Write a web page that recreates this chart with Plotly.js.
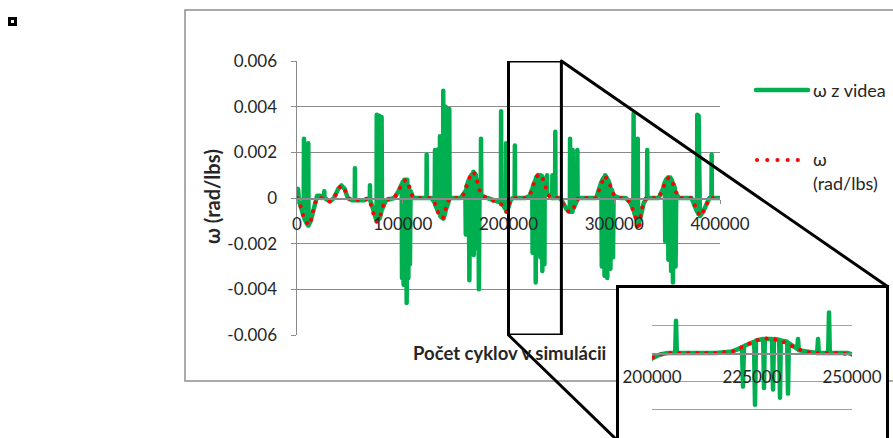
<!DOCTYPE html>
<html>
<head>
<meta charset="utf-8">
<script src="https://cdn.plot.ly/plotly-3.0.1.min.js"></script>
<style>
  html, body { margin: 0; padding: 0; background: #fff; overflow: hidden; }
  #wrap { position: relative; width: 893px; height: 438px; overflow: hidden; }
  #main { position: absolute; left: 0; top: 0; width: 893px; height: 438px; }
  #inset { position: absolute; left: 616px; top: 285px; width: 273px; height: 180px;
           border: 3px solid #000; box-sizing: border-box; background: #fff; }
  #insetPlot { width: 267px; height: 174px; }
  .js-line { stroke-linejoin: round !important; stroke-linecap: round !important; }
  .shapelayer path { stroke-linecap: round !important; }
</style>
</head>
<body>
<div id="wrap">
  <div id="main"></div>
  <div id="inset"><div id="insetPlot"></div></div>
</div>
<script>
// ω measured from video frames (cycle number, rad/lbs)
const videoCycles = [
  0, 1000, 1800, 4000, 6300, 6600, 6900, 9000,
  10500, 10700, 10900, 13000, 16000, 19000, 22000, 25600,
  25800, 26000, 31000, 35000, 39000, 42000, 45000, 48000,
  52000, 54600, 54800, 55000, 63000, 68800, 69000, 69200,
  72000, 75200, 75400, 75800, 77600, 77800, 78200, 79800,
  80000, 80400, 84000, 92000, 96000, 99000, 99300, 99800,
  100800, 101500, 102500, 103200, 103700, 104300, 105300, 106000,
  106800, 107400, 110000, 122400, 122600, 122800, 127000, 130200,
  130500, 130800, 133400, 133600, 133800, 135000, 135200, 135500,
  138100, 138300, 138600, 140400, 140600, 140900, 143800, 144000,
  144300, 155000, 158000, 159200, 159600, 160200, 162500, 163000,
  163600, 164800, 165200, 165800, 166800, 167200, 167800, 169200,
  169600, 170200, 171500, 172000, 172600, 173800, 174000, 174300,
  180000, 186000, 192800, 193000, 193200, 197400, 197700, 198000,
  200000, 202000, 204000, 205800, 206000, 206200, 216000, 220000,
  222500, 222750, 223000, 225500, 225750, 226000, 227800, 228000,
  228200, 230000, 230250, 230500, 231800, 232000, 232200, 233800,
  234000, 234200, 236300, 236500, 236700, 239000, 241300, 241500,
  241700, 244050, 244250, 244450, 249000, 252000, 255000, 258000,
  258200, 258500, 260500, 260700, 261000, 264900, 265100, 265400,
  283000, 286000, 287800, 288200, 288800, 290200, 290800, 291400,
  292800, 293400, 294000, 295800, 296400, 297000, 298200, 298800,
  299400, 305000, 311000, 315000, 318000, 318300, 318600, 320000,
  321800, 322200, 322600, 325000, 328000, 331000, 331200, 331400,
  342000, 346000, 347800, 348200, 348800, 350800, 351200, 351800,
  353200, 353800, 354400, 355000, 355500, 356200, 357400, 358000,
  358600, 361000, 373000, 376000, 378300, 378500, 378800, 379600,
  379800, 380100, 381000, 384000, 387000, 390000, 391900, 392100,
  392300, 400000
];
const videoOmega = [
  0, 0.0004, -0.0001, -0.0005, -0.0008, 0.0026, -0.0009, -0.0011,
  -0.0012, 0.0024, -0.0012, -0.001, -0.0004, 0.0001, 0.0001, 0,
  0.0003, 0, -0.00015, 0, 0.0004, 0.00055, 0.0004, 0,
  -0.0001, -0.0001, 0.0013, -0.0001, -0.0001, 0, 0.00056, -0.0001,
  -0.0005, -0.001, 0.00365, -0.001, -0.0009, 0.0036, -0.0009, -0.0006,
  0.00355, -0.0005, -0.0001, 0, 0.0003, 0.0006, -0.0035, 0.0007,
  -0.0038, 0.0008, -0.0036, 0.0008, -0.0046, 0.0008, -0.0035, 0.0005,
  -0.0029, 0.0003, 0, 0, 0.0019, 0, 0, -0.0002,
  0.0021, -0.0003, -0.0006, 0.00213, -0.0006, -0.0007, 0.0027, -0.0008,
  -0.0009, 0.0047, -0.0009, -0.0006, 0.004, -0.0005, -0.0001, 0.0039,
  0, 0, 0.0002, 0.0003, -0.0016, 0.0005, 0.0008, -0.0036,
  0.0009, 0.001, -0.0019, 0.0011, 0.00115, -0.0025, 0.0011, 0.001,
  -0.0022, 0.0008, 0.0006, -0.004, 0.0004, 0.0002, 0.0026, 0.0001,
  0, -0.0001, -0.0002, 0.0038, -0.0002, -0.0005, 0.0024, -0.0006,
  -0.0004, -0.0001, 0, 0, 0.0023, 0, 0, 0.0001,
  0.0004, -0.0024, 0.0005, 0.0008, -0.0037, 0.0009, 0.001, -0.0025,
  0.001, 0.001, -0.0026, 0.001, 0.00095, -0.0032, 0.0009, 0.0008,
  -0.0029, 0.0007, 0.0003, 0.001, 0.0002, 0.0001, 0, 0.001,
  0, 0, 0.0029, 0, 0, -0.0003, -0.0005, -0.0006,
  0.0026, -0.0006, -0.0006, 0.0021, -0.0005, -0.0001, 0.0021, 0,
  0, 0.0004, 0.0007, -0.003, 0.0008, 0.0009, -0.0034, 0.001,
  0.0009, -0.0035, 0.0008, 0.0006, -0.0031, 0.0004, 0.0003, -0.0026,
  0.0001, 0, 0, -0.0002, -0.0005, 0.0037, -0.0006, -0.0008,
  -0.0011, 0.0026, -0.0012, -0.0008, -0.0002, 0, 0.0021, 0,
  0, 0.0004, 0.0007, -0.0019, 0.0008, 0.0009, -0.0027, 0.0009,
  0.0009, -0.0032, 0.0008, 0.0007, -0.0037, 0.0006, 0.0004, -0.003,
  0.0002, 0, 0, -0.0003, -0.0006, 0.00365, -0.0006, -0.0007,
  0.0036, -0.0008, -0.0008, -0.0006, -0.0003, 0, 0, 0.0019,
  0, 0
];

// ω from the simulation (cycle number, rad/lbs)
const simCycles = [
  0, 3000, 6000, 9000, 11000, 13000, 16000, 19000, 23000, 28000,
  31000, 35000, 39000, 42000, 45000, 48000, 52000, 57000, 63000, 67000,
  70000, 73000, 75500, 78000, 81000, 84000, 88000, 92000, 96000, 100000,
  103000, 106000, 109000, 113000, 118000, 123000, 127000, 130000, 133000, 136000,
  138000, 140000, 142000, 145000, 150000, 155000, 158000, 161000, 164000, 166500,
  169000, 172000, 175000, 180000, 185000, 190000, 194000, 198000, 201000, 204000,
  210000, 216000, 220000, 223000, 226000, 229000, 232000, 235000, 238000, 241000,
  247000, 251000, 254000, 257000, 260000, 263000, 266000, 272000, 278000, 283000,
  286000, 289000, 291000, 294000, 297000, 300000, 305000, 311000, 315000, 318000,
  320000, 322000, 323500, 325000, 327000, 330000, 336000, 342000, 346000, 349000,
  352000, 355000, 358000, 361000, 367000, 373000, 376000, 379000, 381000, 384000,
  387000, 390000, 395000, 400000
];
const simOmega = [
  0, -0.0003, -0.0008, -0.0011, -0.0012, -0.001, -0.0004, 0, 0, -0.0001,
  -0.00015, 0, 0.0004, 0.00055, 0.0004, 0, -0.0001, -0.0001, -0.0001, 0,
  -0.0003, -0.0008, -0.00105, -0.0009, -0.0004, -0.0001, 0, 0, 0.0003, 0.0007,
  0.0008, 0.0005, 0.0001, 0, 0, 0, 0, -0.0002, -0.0006, -0.0008,
  -0.0009, -0.0006, -0.0002, 0, 0, 0, 0.0002, 0.0006, 0.001, 0.00115,
  0.001, 0.0004, 0.0001, 0, -0.0001, -0.0002, -0.0003, -0.0006, -0.0002, 0,
  0, 0, 0.0001, 0.0005, 0.0009, 0.00105, 0.0009, 0.0005, 0.0001, 0,
  0, -0.0002, -0.0005, -0.0006, -0.0006, -0.0003, 0, 0, 0, 0,
  0.0004, 0.0008, 0.00097, 0.0008, 0.0004, 0.0001, 0, 0, -0.0002, -0.0005,
  -0.0008, -0.0012, -0.0014, -0.0008, -0.0003, 0, 0, 0, 0.0004, 0.0008,
  0.0009, 0.0007, 0.0003, 0, 0, 0, -0.0003, -0.0006, -0.0008, -0.0006,
  -0.0003, 0, 0, 0
];

// Axis ticks
const omegaTicks = [-0.006, -0.004, -0.002, 0, 0.002, 0.004, 0.006];
const omegaTickText = ['-0.006', '-0.004', '-0.002', '0', '0.002', '0.004', '0.006'];
const cycleTicks = [0, 100000, 200000, 300000, 400000];
const cycleTickText = ['0', '100000', '200000', '300000', '400000'];
const zoomTicks = [200000, 225000, 250000];
const zoomTickText = ['200000', '225000', '250000'];
const zoomOmegaTicks = [-0.006, -0.004, -0.002, 0, 0.002, 0.004];

// Labels
const seriesVideo = 'ω z videa';
const seriesSimLines = ['ω', '(rad/lbs)'];
const yTitle = 'ω (rad/lbs)';
const xTitle = 'Počet cyklov v simulácii';

// ---- styling ----
const GREEN = '#00b050', RED = '#ff0000', GRID = '#8a8a8a', TEXT = '#262626';
const FONT = 'Lato, "Noto Sans", "DejaVu Sans", sans-serif';
const W = 893, H = 438;
const fx = p => p / W;
const fy = p => 1 - p / H;

// main plot area in page pixels
const plotLeft = 297, plotRight = 720, plotTop = 61, plotBottom = 335;
const xDom = [fx(plotLeft), fx(plotRight)];
const yDom = [fy(plotBottom), fy(plotTop)];
const xRange = [0, 400000];
const yRange = [-0.006, 0.006];
const zoomRange = [200000, 250000];
const toPaperX = v => xDom[0] + (v - xRange[0]) / (xRange[1] - xRange[0]) * (xDom[1] - xDom[0]);
const toPaperY = v => yDom[0] + (v - yRange[0]) / (yRange[1] - yRange[0]) * (yDom[1] - yDom[0]);

const DOTS = '0.1px,8.9px';
const videoTrace = {
  x: videoCycles, y: videoOmega, type: 'scatter', mode: 'lines',
  line: { color: GREEN, width: 4.5 }, name: seriesVideo
};
const simTrace = {
  x: simCycles, y: simOmega, type: 'scatter', mode: 'lines',
  line: { color: RED, width: 4, dash: DOTS }, name: seriesSimLines.join(' ')
};

const tickFont = { family: FONT, size: 17, color: TEXT };

const mainLayout = {
  width: W, height: H,
  margin: { l: 0, r: 0, t: 0, b: 0 },
  paper_bgcolor: '#fff', plot_bgcolor: 'rgba(0,0,0,0)',
  showlegend: false,
  font: { family: FONT, color: TEXT },
  xaxis: {
    domain: xDom, range: xRange, anchor: 'free', position: toPaperY(0),
    tickmode: 'array', tickvals: cycleTicks, ticktext: cycleTickText,
    showgrid: false, zeroline: false,
    showline: true, linecolor: GRID, linewidth: 1.5,
    ticks: 'outside', ticklen: 4, tickcolor: GRID, tickwidth: 1,
    ticklabelstandoff: 6, tickfont: tickFont
  },
  yaxis: {
    domain: yDom, range: yRange, anchor: 'x',
    tickmode: 'array', tickvals: omegaTicks, ticktext: omegaTickText,
    showgrid: true, gridcolor: GRID, gridwidth: 1, zeroline: false,
    showline: true, linecolor: GRID, linewidth: 1.5,
    ticks: 'outside', ticklen: 5, tickcolor: GRID, tickwidth: 1,
    ticklabelstandoff: 10, tickfont: tickFont
  },
  shapes: [
    // chart frame
    { type: 'rect', xref: 'paper', yref: 'paper', layer: 'below',
      x0: fx(185), x1: fx(905), y0: fy(381), y1: fy(10),
      line: { color: '#8e8e8e', width: 1.5 } },
    // small marker in the corner
    { type: 'rect', xref: 'paper', yref: 'paper', x0: fx(8), x1: fx(17), y0: fy(26), y1: fy(17),
      fillcolor: '#000', line: { width: 0 } },
    { type: 'rect', xref: 'paper', yref: 'paper', x0: fx(11), x1: fx(14), y0: fy(23), y1: fy(20),
      fillcolor: '#fff', line: { width: 0 } },
    // zoomed window
    { type: 'rect', xref: 'x', yref: 'y', layer: 'above',
      x0: zoomRange[0], x1: zoomRange[1], y0: yRange[0], y1: yRange[1],
      line: { color: '#000', width: 3 } },
    // connectors to the detail box
    { type: 'line', xref: 'paper', yref: 'paper', layer: 'above',
      x0: toPaperX(zoomRange[1]), y0: toPaperY(yRange[1]), x1: fx(887.5), y1: fy(286.5),
      line: { color: '#000', width: 3 } },
    { type: 'line', xref: 'paper', yref: 'paper', layer: 'above',
      x0: toPaperX(zoomRange[0]), y0: toPaperY(yRange[0]), x1: fx(619), y1: fy(442),
      line: { color: '#000', width: 3 } },
    // legend keys
    { type: 'line', xref: 'paper', yref: 'paper', x0: fx(756), x1: fx(808), y0: fy(90), y1: fy(90),
      line: { color: GREEN, width: 4.5 } },
    { type: 'line', xref: 'paper', yref: 'paper', x0: fx(757), x1: fx(808), y0: fy(160), y1: fy(160),
      line: { color: RED, width: 4, dash: '0.1px,10.1px' } }
  ],
  annotations: [
    { xref: 'paper', yref: 'paper', x: fx(212), y: fy(197), text: '<b>' + yTitle + '</b>',
      textangle: -90, showarrow: false, xanchor: 'center', yanchor: 'middle',
      font: { family: FONT, size: 20, color: TEXT } },
    { xref: 'paper', yref: 'paper', x: fx(509), y: fy(353), text: '<b>' + xTitle + '</b>',
      showarrow: false, xanchor: 'center', yanchor: 'middle',
      font: { family: FONT, size: 18.5, color: TEXT } },
    { xref: 'paper', yref: 'paper', x: fx(811), y: fy(90), text: seriesVideo,
      showarrow: false, xanchor: 'left', yanchor: 'middle',
      font: { family: FONT, size: 18, color: TEXT } },
    { xref: 'paper', yref: 'paper', x: fx(811), y: fy(159), text: seriesSimLines[0],
      showarrow: false, xanchor: 'left', yanchor: 'middle',
      font: { family: FONT, size: 18, color: TEXT } },
    { xref: 'paper', yref: 'paper', x: fx(811), y: fy(183), text: seriesSimLines[1],
      showarrow: false, xanchor: 'left', yanchor: 'middle',
      font: { family: FONT, size: 18, color: TEXT } }
  ]
};

// detail plot: same series over the zoomed window
const insetW = 267, insetH = 174;
const insetY = [-0.006, 0.004];
const insetLayout = {
  width: insetW, height: insetH,
  margin: { l: 33, r: 34, t: 9, b: 25 },
  paper_bgcolor: '#fff', plot_bgcolor: 'rgba(0,0,0,0)',
  showlegend: false,
  xaxis: {
    range: zoomRange, anchor: 'free',
    position: (0 - insetY[0]) / (insetY[1] - insetY[0]),
    tickmode: 'array', tickvals: zoomTicks, ticktext: zoomTickText,
    showgrid: false, zeroline: false,
    showline: true, linecolor: GRID, linewidth: 1.5,
    ticks: 'inside', ticklen: 4, tickcolor: GRID,
    ticklabelstandoff: 8, tickfont: tickFont
  },
  yaxis: {
    range: insetY, tickmode: 'array', tickvals: zoomOmegaTicks,
    showgrid: true, gridcolor: '#a0a0a0', gridwidth: 1, zeroline: false,
    showline: false, ticks: '', showticklabels: false
  }
};

const config = { staticPlot: true, displayModeBar: false };
Plotly.newPlot('main', [videoTrace, simTrace], mainLayout, config);
Plotly.newPlot('insetPlot', [Object.assign({}, videoTrace), Object.assign({}, simTrace)], insetLayout, config);
</script>
</body>
</html>
